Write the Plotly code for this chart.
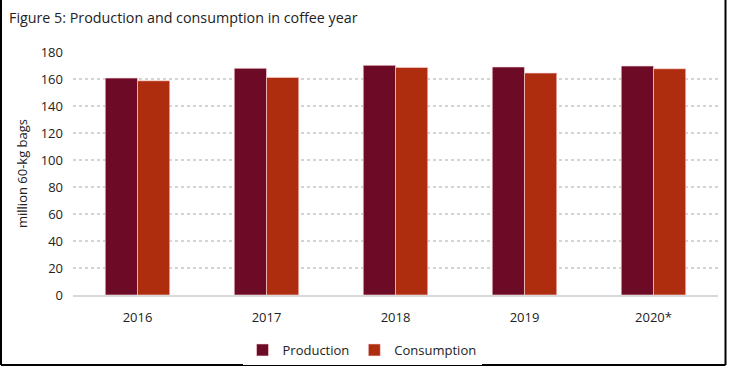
import plotly.graph_objects as go

years = ["2016", "2017", "2018", "2019", "2020*"]
production = [160.7, 167.9, 170.1, 168.9, 169.6]
consumption = [158.7, 161.2, 168.6, 164.4, 167.6]
y_ticks = [0, 20, 40, 60, 80, 100, 120, 140, 160, 180]

W, H = 729, 367
ml, mr, mt, mb = 73, 11, 52, 72
pw, ph = W - ml - mr, H - mt - mb

def px_x(x):
    return (x - ml) / pw

def px_y(y):
    return (H - mb - y) / ph

font = "Open Sans"
fig = go.Figure()
fig.add_trace(go.Bar(name="Production", x=years, y=production,
                     marker=dict(color="#6d0b27", line=dict(color="rgba(255,220,225,0.6)", width=1))))
fig.add_trace(go.Bar(name="Consumption", x=years, y=consumption,
                     marker=dict(color="#ae2d0e", line=dict(color="rgba(255,220,225,0.6)", width=1))))

fig.update_layout(
    width=W, height=H,
    margin=dict(l=ml, r=mr, t=mt, b=mb, autoexpand=False),
    paper_bgcolor="white", plot_bgcolor="white",
    barmode="group", bargap=0.5, bargroupgap=0,
    font=dict(family=font, size=13, color="#222222"),
    title=dict(text="Figure 5: Production and consumption in coffee year",
               x=9 / W, xanchor="left", y=1 - 18 / H, yanchor="middle",
               font=dict(family=font, size=14.3, color="#222222")),
    xaxis=dict(showgrid=False, showline=True, linecolor="#d9d9d9", linewidth=1.5,
               ticks="", tickfont=dict(size=13), automargin=False, ticklabelstandoff=10),
    yaxis=dict(range=[0, 180], tickvals=y_ticks, showgrid=True,
               gridcolor="#d4d4d4", griddash="dot", gridwidth=1.5,
               zeroline=False, showline=False, ticks="", automargin=False,
               ticklabelstandoff=9,
               title=dict(text="million 60-kg bags", font=dict(size=13), standoff=10),
               tickfont=dict(size=13)),
    legend=dict(orientation="h", x=px_x(362), xanchor="center", y=px_y(350), yanchor="middle",
                font=dict(size=13), itemwidth=30, traceorder="normal"),
    showlegend=True,
)

for x0, y0, x1, y1 in [(1, 0, 1, 365), (1, 365, 725.5, 365), (725.5, 0, 725.5, 365)]:
    fig.add_shape(type="line", xref="paper", yref="paper",
                  x0=px_x(x0), y0=px_y(y0), x1=px_x(x1), y1=px_y(y1),
                  line=dict(color="black", width=2))

fig.write_html("out.html", config={"displayModeBar": False},
               post_script="document.body.style.margin='0';document.body.style.overflow='hidden';")
